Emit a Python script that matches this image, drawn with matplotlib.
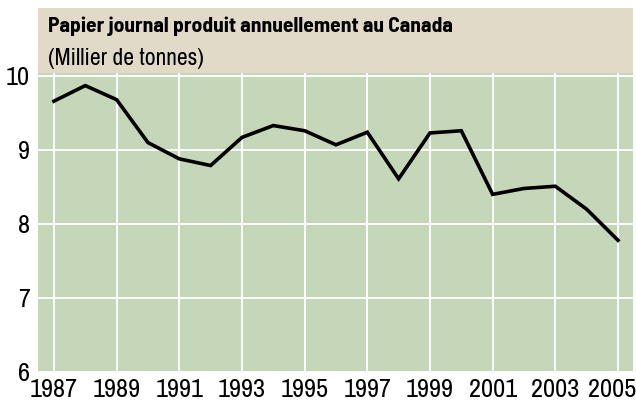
import matplotlib
matplotlib.use('Agg')
from matplotlib import pyplot as plt
from matplotlib.patches import Rectangle
from matplotlib.transforms import ScaledTranslation

# production annuelle de papier journal
annees = [1987, 1988, 1989, 1990, 1991, 1992, 1993, 1994, 1995, 1996,
          1997, 1998, 1999, 2000, 2001, 2002, 2003, 2004, 2005]
production = [9.66, 9.87, 9.68, 9.10, 8.88, 8.79, 9.17, 9.33, 9.26, 9.07,
              9.24, 8.61, 9.23, 9.26, 8.40, 8.48, 8.51, 8.20, 7.78]

ticks_x = list(range(1987, 2006, 2))
ticks_y = [6, 7, 8, 9, 10]

titre = 'Papier journal produit annuellement au Canada'
sous_titre = '(Millier de tonnes)'

vert = '#c6d7b9'
beige = '#e1dac8'
police = ['Archivo Narrow', 'Roboto Condensed', 'DejaVu Sans']
police_titre = ['Barlow Semi Condensed', 'Roboto Condensed', 'DejaVu Sans']

plt.rcParams['font.family'] = police

fig = plt.figure(figsize=(6.36, 4.07), dpi=100)
ax = fig.add_axes([0.0597, 0.086, 0.9356, 0.7346])

# bandeau du titre
fig.patches.append(Rectangle((0.0597, 0.8206), 0.9356, 0.1597,
                             transform=fig.transFigure, facecolor=beige,
                             edgecolor='none', zorder=0))
fig.text(0.0755, 0.921, titre, fontsize=15.5, fontweight='bold',
         family=police_titre, va='baseline', ha='left')
fig.text(0.0755, 0.840, sous_titre, fontsize=17, va='baseline', ha='left')

ax.set_facecolor(vert)
ax.plot(annees, production, color='black', linewidth=2.6,
        solid_joinstyle='miter', zorder=3)

ax.set_xlim(1986.49, 2005.48)
ax.set_ylim(6, 10.04)
ax.set_xticks(ticks_x)
ax.set_yticks(ticks_y)
ax.grid(True, color='white', linewidth=1.3)
ax.set_axisbelow(True)
for s in ax.spines.values():
    s.set_visible(False)
ax.tick_params(length=0, labelsize=19)
ax.tick_params(axis='y', pad=6)
ax.tick_params(axis='x', pad=4)

# la derniere annee est decalee vers la gauche pour rester dans le cadre
dernier = ax.get_xticklabels()[-1]
dernier.set_transform(dernier.get_transform()
                      + ScaledTranslation(-6 / 100, 0, fig.dpi_scale_trans))

plt.savefig('out.png', dpi=100)
